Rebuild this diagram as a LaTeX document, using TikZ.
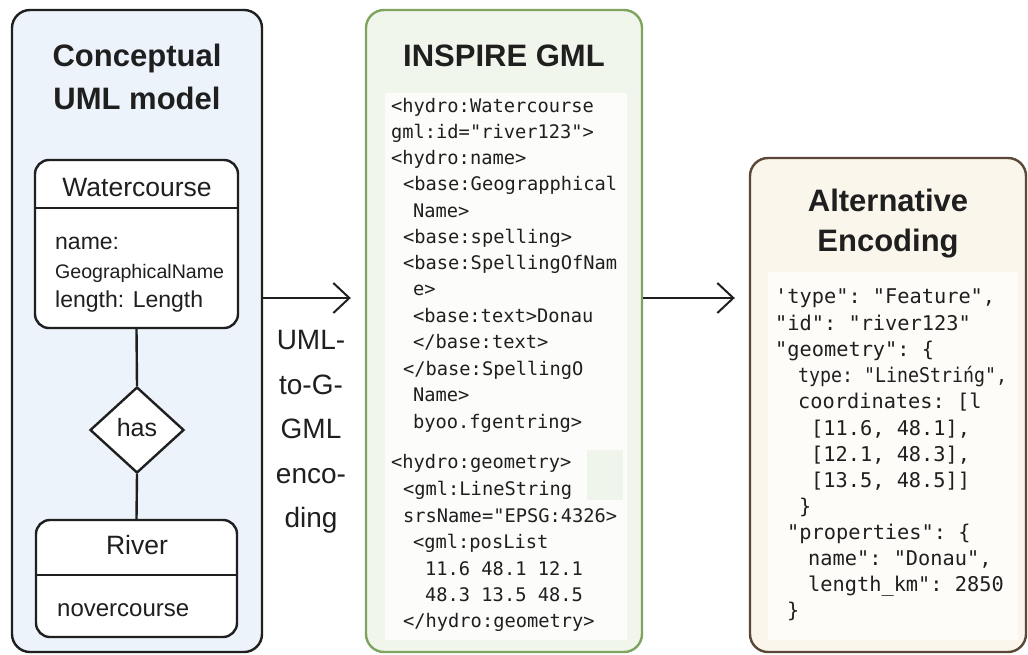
\documentclass[tikz,border=0pt]{standalone}
\usepackage{graphicx}
\usepackage{fontspec}
\setmainfont{Liberation Sans}
\setsansfont{Liberation Sans}
\setmonofont{DejaVu Sans Mono}
\usetikzlibrary{arrows.meta,shapes.geometric}

\definecolor{ink}{HTML}{1F1F1F}
\definecolor{umlbg}{HTML}{EDF3FB}
\definecolor{gmlbg}{HTML}{F1F6EC}
\definecolor{gmlline}{HTML}{7EA45F}
\definecolor{gmlcode}{HTML}{FCFDFB}
\definecolor{gmlpatch}{HTML}{F0F5EB}
\definecolor{altbg}{HTML}{FBF6EC}
\definecolor{altline}{HTML}{5A4838}
\definecolor{altcode}{HTML}{FEFCF8}

\tikzset{
  panel/.style={line width=2.4pt, rounded corners=18pt, inner sep=0pt},
  umlbox/.style={draw=ink, fill=white, line width=2.4pt, rounded corners=14pt, inner sep=0pt},
  conn/.style={draw=ink, line width=2.4pt},
  arr/.style={draw=ink, line width=2pt, -{Straight Barb[length=16pt,width=30pt]}, shorten >=14pt},
  ttl/.style={text=ink, font=\fontsize{31}{36}\selectfont\bfseries, inner sep=0pt, text height=23pt, text depth=7pt},
  lbl/.style={text=ink, font=\fontsize{26.5}{31}\selectfont, inner sep=0pt, text height=20pt, text depth=6.5pt},
  attr/.style={text=ink, anchor=west, font=\fontsize{23}{28}\selectfont, inner sep=0pt, text height=17.5pt, text depth=5.5pt},
  enc/.style={text=ink, font=\fontsize{28}{33}\selectfont, inner sep=0pt, text height=21pt, text depth=6pt},
  gcode/.style={text=ink, anchor=west, font=\fontsize{18.7}{22}\selectfont\ttfamily, inner sep=0pt, text height=14.2pt, text depth=4.1pt},
  acode/.style={text=ink, anchor=west, font=\fontsize{20.3}{24}\selectfont\ttfamily, inner sep=0pt, text height=15.4pt, text depth=4.5pt},
}

\begin{document}
\begin{tikzpicture}[x=1pt,y=-1pt]
\useasboundingbox[fill=white] (0,0) rectangle (1028,654);

% ---------- panels ----------
\node[panel, draw=ink, fill=umlbg, minimum width=250pt, minimum height=642pt] (uml) at (137,331) {};
\node[panel, draw=gmlline, fill=gmlbg, minimum width=276pt, minimum height=642pt] (gml) at (504,331) {};
\node[panel, draw=altline, fill=altbg, minimum width=276pt, minimum height=494pt] (alt) at (888,405) {};

% ---------- conceptual UML model ----------
\node[ttl] (umlT1) at (137,58) {Conceptual};
\node[ttl] (umlT2) at (137,101) {UML model};

\node[umlbox, minimum width=203pt, minimum height=168pt] (wc) at (136.5,244) {};
\draw[conn] (wc.west |- 0,208) -- (wc.east |- 0,208);
\node[lbl] (wcName) at (137,190) {Watercourse};
\node[attr] (wcA1) at (55,243) {name:};
\node[attr, font=\fontsize{19.6}{24}\selectfont] (wcA2) at (55,272) {GeographicalName};
\node[attr] (wcA3) at (55,301) {length: Length};

\node[diamond, draw=ink, fill=white, line width=2.4pt, minimum width=94pt, minimum height=86pt, inner sep=0pt,
      text=ink, font=\fontsize{25}{30}\selectfont, text height=19pt, text depth=6pt] (has) at (137,430) {has};

\node[umlbox, minimum width=201pt, minimum height=117pt] (river) at (136.5,578.5) {};
\draw[conn] (river.west |- 0,575) -- (river.east |- 0,575);
\node[lbl] (rvName) at (137,548) {River};
\node[attr, font=\fontsize{24}{29}\selectfont] (rvA1) at (57,610) {novercourse};

\draw[conn] (wc.south) -- (has.north);
\draw[conn] (has.south) -- (river.north);

% ---------- arrows between panels ----------
\coordinate (ay) at (0,298);
\draw[arr] (uml.east |- ay) -- (gml.west |- ay);
\draw[arr] (gml.east |- ay) -- (alt.west |- ay);

\node[enc] (e1) at (311,342) {UML-};
\node[enc] (e2) at (311,387) {to-G-};
\node[enc] (e3) at (311,431) {GML};
\node[enc] (e4) at (311,476) {enco-};
\node[enc] (e5) at (311,520) {ding};

% ---------- INSPIRE GML ----------
\node[ttl] (gmlT) at (504,58) {INSPIRE GML};
\fill[gmlcode] (385,93) rectangle (627,640);
\fill[gmlpatch] (587,450) rectangle (623,500);

\node[gcode] (g1)  at (391,107) {<hydro:Watercourse};
\node[gcode] (g2)  at (391,133) {gml:id="river123">};
\node[gcode] (g3)  at (391,159) {<hydro:name>};
\node[gcode] (g4)  at (403,185) {<base:Geograpphical};
\node[gcode] (g5)  at (413,212) {Name>};
\node[gcode] (g6)  at (403,238) {<base:spelling>};
\node[gcode] (g7)  at (403,264) {<base:SpellingOfNam};
\node[gcode] (g8)  at (413,290) {e>};
\node[gcode] (g9)  at (413,317) {<base:text>Donau};
\node[gcode] (g10) at (413,343) {</base:text>};
\node[gcode] (g11) at (403,370) {</base:SpellingO};
\node[gcode] (g12) at (413,396) {Name>};
\node[gcode] (g13) at (413,423) {byoo.fgentring>};
\node[gcode] (g14) at (391,463) {<hydro:geometry>};
\node[gcode] (g15) at (403,490) {<gml:LineString};
\node[gcode] (g16) at (403,517) {srsName="EPSG:4326>};
\node[gcode] (g17) at (413,543) {<gml:posList};
\node[gcode] (g18) at (425,570) {11.6 48.1 12.1};
\node[gcode] (g19) at (425,596) {48.3 13.5 48.5};
\node[gcode] (g20) at (403,622) {</hydro:geometry>};

% ---------- alternative encoding ----------
\node[ttl] (altT1) at (888,203) {Alternative};
\node[ttl] (altT2) at (888,243) {Encoding};
\fill[altcode] (768,272) rectangle (1018,640);

\node[acode] (j1)  at (775,298) {'type": "Feature",};
\node[acode] (j2)  at (775,325) {"id": "river123"};
\node[acode] (j3)  at (775,351) {"geometry": \{};
\node[acode] (j4)  at (798,377) {\scalebox{0.9}[1]{type: "LineStrińg",}};
\node[acode] (j5)  at (798,403) {coordinates: [l};
\node[acode] (j6)  at (811,430) {[11.6, 48.1],};
\node[acode] (j7)  at (811,456) {[12.1, 48.3],};
\node[acode] (j8)  at (811,482) {[13.5, 48.5]]};
\node[acode] (j9)  at (799,508) {\}};
\node[acode] (j10) at (787,534) {"properties": \{};
\node[acode] (j11) at (808,560) {name": "Donau",};
\node[acode] (j12) at (808,586) {length\_km": 2850};
\node[acode] (j13) at (787,612) {\}};
\end{tikzpicture}
\end{document}
